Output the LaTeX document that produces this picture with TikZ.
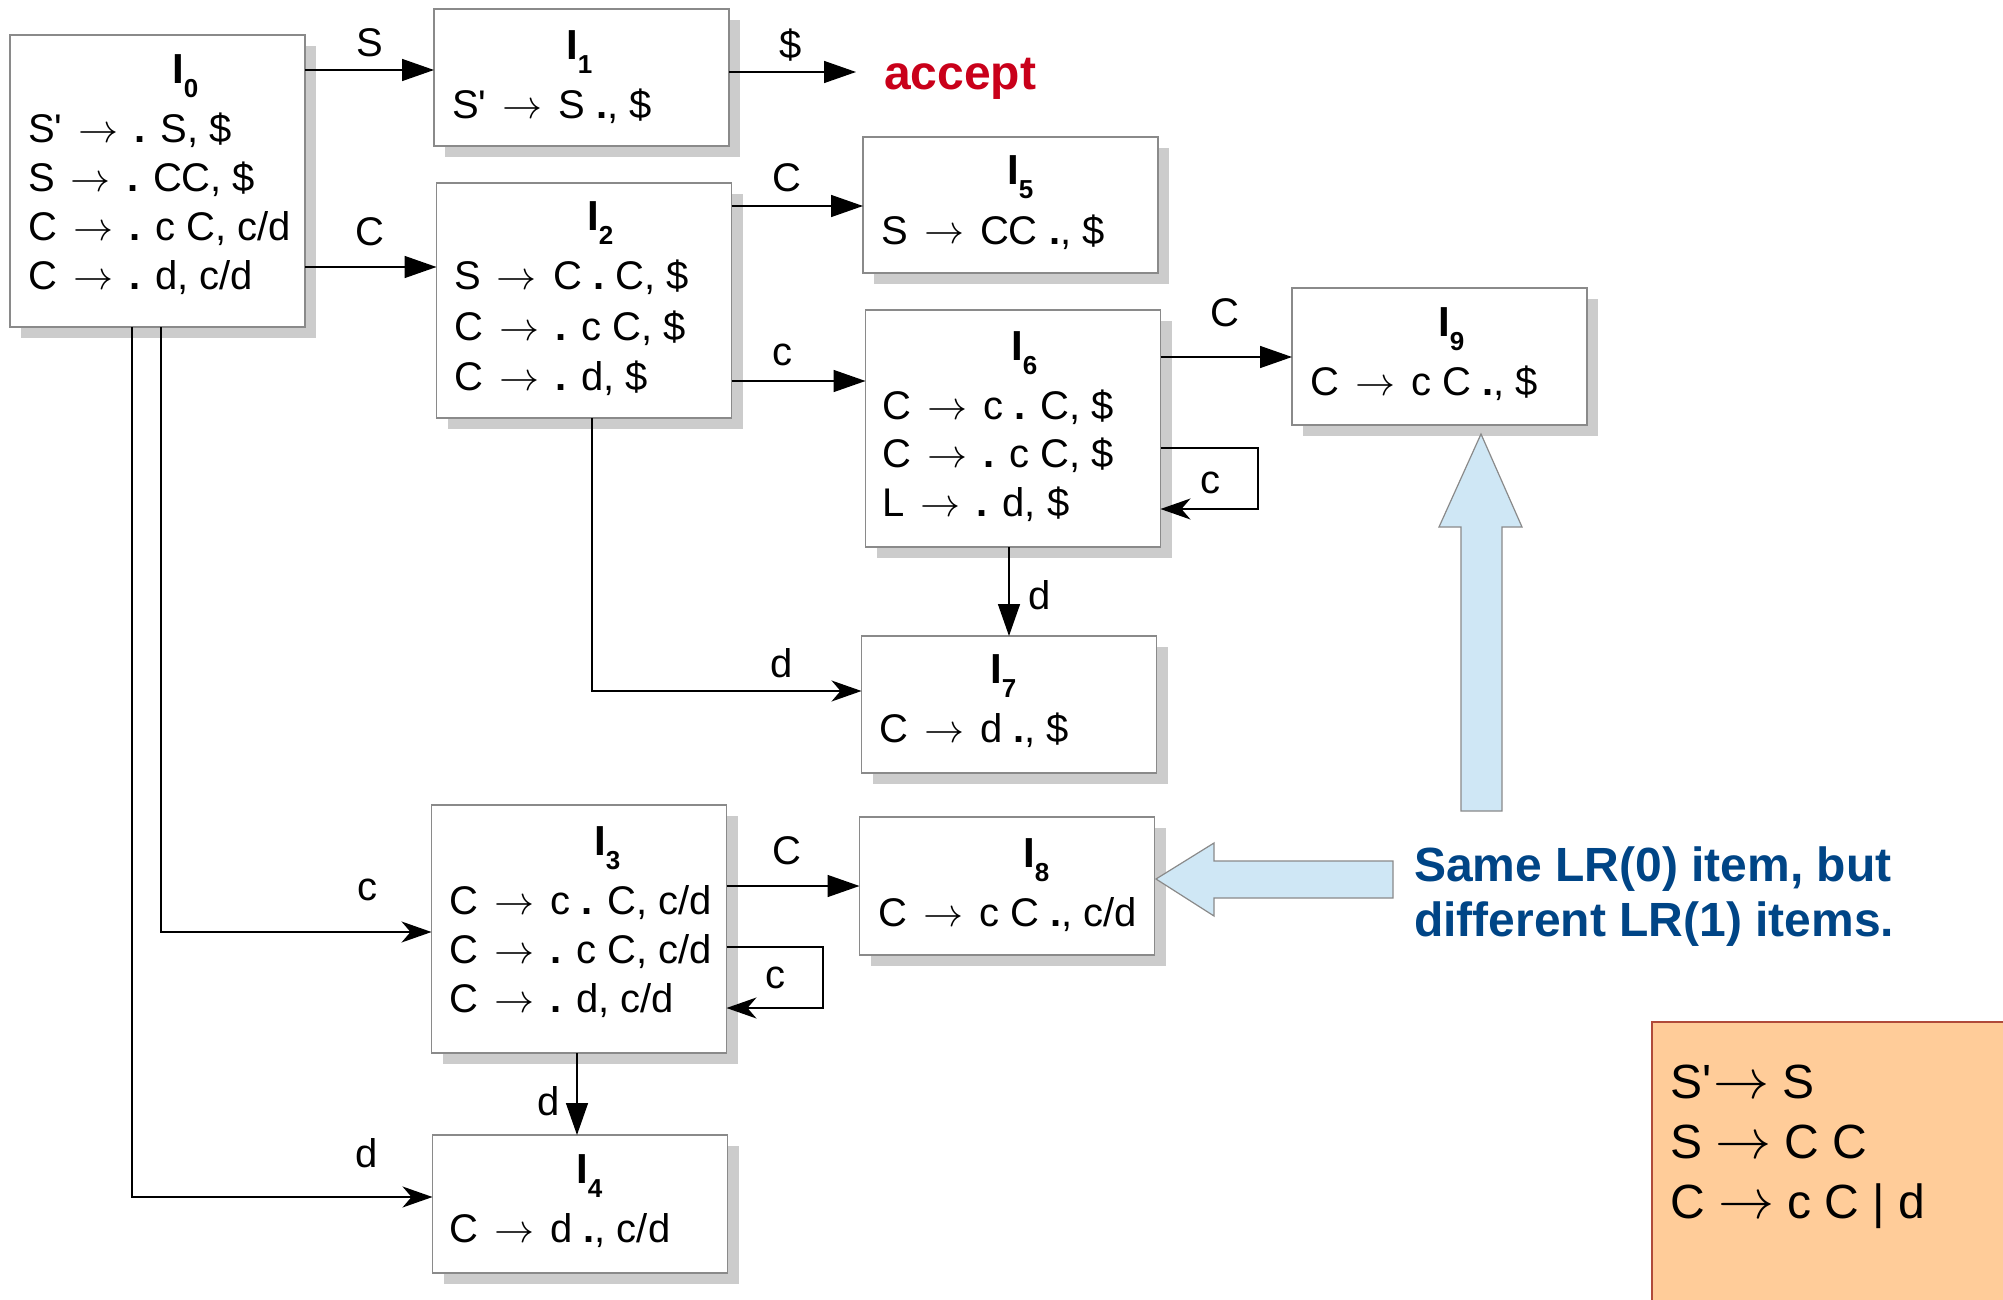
\documentclass[tikz,border=0pt]{standalone}
\usepackage{graphicx}
\usepackage{fontspec}
\setmainfont{Liberation Sans}
\newfontfamily\rawsans{Liberation Sans}
\usetikzlibrary{arrows.meta,shadows}

\definecolor{boxline}{HTML}{8A8A8A}
\definecolor{shade}{HTML}{CCCCCC}
\definecolor{hintblue}{HTML}{CFE7F5}
\definecolor{hintline}{HTML}{8A8A8A}
\definecolor{notenavy}{HTML}{004586}
\definecolor{acceptred}{HTML}{C9001A}
\definecolor{peach}{HTML}{FFCC99}
\definecolor{peachline}{HTML}{B04A3A}

% straight apostrophe, production arrow, bold item dot, state title I_n
\newcommand\ap{{\rawsans'}}
\newcommand\arw[1]{\resizebox{#1}{!}{$\rightarrow$}}
\newcommand\ar{\kern5pt\arw{40pt}\kern5pt}
\newcommand\bd{\textbf{.}}
\newcommand\stname[1]{\textbf{I}\raisebox{-14pt}{\fontsize{26}{26}\selectfont\bfseries #1}}

\begin{document}
\begin{tikzpicture}[x=1pt,y=-1pt,
  state/.style={draw=boxline, fill=white, line width=1.4pt, inner sep=0pt, outer sep=0pt,
    minimum width=295pt,
    drop shadow={shadow xshift=11pt, shadow yshift=-11pt, fill=shade, opacity=1}},
  item/.style={anchor=base west, inner sep=0pt, font=\fontsize{40}{48}\selectfont},
  ttl/.style={anchor=base west, inner sep=0pt, font=\fontsize{42}{48}\selectfont},
  lbl/.style={inner sep=0pt, font=\fontsize{40}{48}\selectfont},
  note/.style={anchor=base west, inner sep=0pt, text=notenavy, font=\fontsize{48}{56}\selectfont\bfseries},
  gram/.style={anchor=base west, inner sep=0pt, font=\fontsize{48}{58}\selectfont},
  tri/.style={-{Triangle[length=32pt,width=22pt]}, line width=1.5pt},
  stl/.style={-{Stealth[length=30pt,width=21pt,inset=9pt]}, line width=1.5pt},
  hint/.style={fill=hintblue, draw=hintline, line width=1.2pt}]

\useasboundingbox (0,0) rectangle (2003,1300);
\fill[white] (0,0) rectangle (2003,1300);

% grammar card, running off the page edge
\fill[peach] (1652,1022) rectangle (2003,1300);
\draw[peachline, line width=1.2pt] (1652,1300) -- (1652,1022) -- (2003,1022);
\node[gram] (g1) at (1670,1098) {S\ap\kern2pt\arw{56pt} S};
\node[gram] (g2) at (1670,1158) {S \arw{56pt} C C};
\node[gram] (g3) at (1670,1218) {C \arw{56pt} c C | d};

% item sets
\node[state, minimum height=292pt] (I0) at (157.5,181) {};
\node[state, minimum height=137pt] (I1) at (581.5,77.5) {};
\node[state, minimum height=235pt] (I2) at (584,300.5) {};
\node[state, minimum height=136pt] (I5) at (1010.5,205) {};
\node[state, minimum height=237pt] (I6) at (1013,428.5) {};
\node[state, minimum height=137pt] (I9) at (1439.5,356.5) {};
\node[state, minimum height=137pt] (I7) at (1009,704.5) {};
\node[state, minimum height=248pt] (I3) at (579,929) {};
\node[state, minimum height=138pt] (I8) at (1007,886) {};
\node[state, minimum height=138pt] (I4) at (580,1204) {};

% titles
\node[ttl] (t0) at (172,84) {\stname{0}};
\node[ttl] (t1) at (566,60) {\stname{1}};
\node[ttl] (t2) at (587,231) {\stname{2}};
\node[ttl] (t5) at (1007,185) {\stname{5}};
\node[ttl] (t6) at (1011,360) {\stname{6}};
\node[ttl] (t9) at (1438,336) {\stname{9}};
\node[ttl] (t7) at (990,683) {\stname{7}};
\node[ttl] (t3) at (594,855) {\stname{3}};
\node[ttl] (t8) at (1023,867) {\stname{8}};
\node[ttl] (t4) at (576,1183) {\stname{4}};

% items
\node[item] (i0a) at (28,143) {S\ap{} \ar{} \bd{} S, \$};
\node[item] (i0b) at (28,192) {S \ar{} \bd{} CC, \$};
\node[item] (i0c) at (28,241) {C \ar{} \bd{} c C, c/d};
\node[item] (i0d) at (28,290) {C \ar{} \bd{} d, c/d};

\node[item] (i1a) at (452,119) {S\ap{} \ar{} S \bd, \$};

\node[item] (i2a) at (454,290) {S \ar{} C \bd{} C, \$};
\node[item] (i2b) at (454,340) {C \ar{} \bd{} c C, \$};
\node[item] (i2c) at (454,390) {C \ar{} \bd{} d, \$};

\node[item] (i5a) at (881,244) {S \ar{} CC \bd, \$};

\node[item] (i6a) at (882,419) {C \ar{} c \bd{} C, \$};
\node[item] (i6b) at (882,467) {C \ar{} \bd{} c C, \$};
\node[item] (i6c) at (882,516) {L \ar{} \bd{} d, \$};

\node[item] (i9a) at (1310,395) {C \ar{} c C \bd, \$};

\node[item] (i7a) at (879,742) {C \ar{} d \bd, \$};

\node[item] (i3a) at (449,914) {C \ar{} c \bd{} C, c/d};
\node[item] (i3b) at (449,963) {C \ar{} \bd{} c C, c/d};
\node[item] (i3c) at (449,1012) {C \ar{} \bd{} d, c/d};

\node[item] (i8a) at (878,926) {C \ar{} c C \bd, c/d};

\node[item] (i4a) at (449,1242) {C \ar{} d \bd, c/d};

% accept
\node[anchor=west, inner sep=0pt, text=acceptred, font=\fontsize{48}{56}\selectfont\bfseries] (acc) at (884,79) {accept};

% transitions
\draw[tri] (I0.east |- 0,70) -- (I1.west |- 0,70);
\draw[tri] (I0.east |- 0,267) -- (I2.west |- 0,267);
\draw[tri, shorten >=28pt] (I1.east |- 0,72) -- (acc.west |- 0,72);
\draw[tri] (I2.east |- 0,206) -- (I5.west |- 0,206);
\draw[tri] (I2.east |- 0,381) -- (I6.west |- 0,381);
\draw[stl] (592,0 |- I2.south) |- (I7.west |- 0,691);
\draw[tri] (I6.east |- 0,357) -- (I9.west |- 0,357);
\draw[stl] (I6.east |- 0,448) -- (1258,448) -- (1258,509) -- (I6.east |- 0,509);
\draw[tri] (1009,0 |- I6.south) -- (1009,0 |- I7.north);
\draw[stl] (161,0 |- I0.south) |- (I3.west |- 0,932);
\draw[stl] (132,0 |- I0.south) |- (I4.west |- 0,1197);
\draw[tri] (I3.east |- 0,886) -- (I8.west |- 0,886);
\draw[stl] (I3.east |- 0,947) -- (823,947) -- (823,1008) -- (I3.east |- 0,1008);
\draw[tri] (577,0 |- I3.south) -- (577,0 |- I4.north);

% transition labels
\node[lbl] (lS)  at (370,43)   {S};
\node[lbl] (lC1) at (370,232)  {C};
\node[lbl] (lD)  at (791,45)   {\$};
\node[lbl] (lC2) at (787,178)  {C};
\node[lbl] (lc1) at (782,355)  {c};
\node[lbl] (ld1) at (782,663)  {d};
\node[lbl] (lC3) at (1225,313) {C};
\node[lbl] (lc2) at (1210,483) {c};
\node[lbl] (ld2) at (1040,595) {d};
\node[lbl] (lc3) at (367,890)  {c};
\node[lbl] (ld3) at (367,1153) {d};
\node[lbl] (lC4) at (787,851)  {C};
\node[lbl] (lc4) at (775,978)  {c};
\node[lbl] (ld4) at (549,1101) {d};

% hint arrows pointing at I9 and I8
\draw[hint] (1461,811) -- (1461,527) -- (1439,527) -- (1481,434) -- (1522,527) -- (1502,527) -- (1502,811) -- cycle;
\draw[hint] (1393,861) -- (1214,861) -- (1214,843) -- (1156,879) -- (1214,916) -- (1214,898) -- (1393,898) -- cycle;

% note
\node[note] (n1) at (1414,881) {Same LR(0) item, but};
\node[note] (n2) at (1414,936) {different LR(1) items.};

\end{tikzpicture}
\end{document}
